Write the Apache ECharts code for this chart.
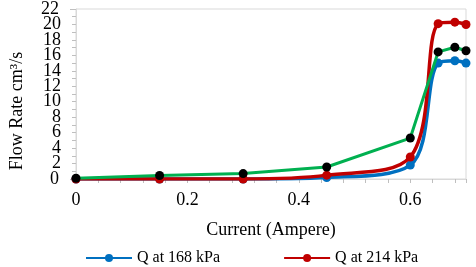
<!DOCTYPE html>
<html><head><meta charset="utf-8">
<script src="https://cdn.jsdelivr.net/npm/echarts@6/dist/echarts.min.js"></script>
<style>html,body{margin:0;padding:0;background:#fff}#c{width:476px;height:267px}</style>
</head><body><div id="c"></div>
<script>
var current = [0, 0.15, 0.3, 0.45, 0.6, 0.65, 0.68, 0.7];
var q168 = [0, 0, 0, 0.2, 1.8, 15.0, 15.3, 15.0];
var q214 = [0, 0, 0, 0.5, 2.85, 20.1, 20.3, 20.0];
var q3 = [0.1, 0.45, 0.7, 1.55, 5.3, 16.45, 17.05, 16.6];
var seriesNames = ['Q at 168 kPa', 'Q at 214 kPa', 'Q'];
var xTitle = 'Current (Ampere)';
var yTitle = 'Flow Rate cm\u00B3/s';
var yMin = 0, yMax = 22, yStep = 2;

function pairs(ys){ return current.map(function(x,i){ return [x, ys[i]]; }); }
var font = 'Liberation Serif';
var gridBox = {left: 74, right: 10, top: 9, bottom: 88};
var labelStyle = {fontFamily: font, fontSize: 18, color: '#000', margin: 15, hideOverlap: false};
var chart = echarts.init(document.getElementById('c'));
chart.setOption({
  animation: false,
  textStyle: {fontFamily: font},
  grid: [
    Object.assign({show: true, borderColor: '#d9d9d9', borderWidth: 1}, gridBox),
    Object.assign({show: false}, gridBox)
  ],
  legend: {
    data: [seriesNames[0], seriesNames[1]],
    left: 80, top: 245, itemWidth: 46, itemHeight: 10, itemGap: 63,
    textStyle: {fontFamily: font, fontSize: 16, color: '#000'}
  },
  xAxis: [{
    gridIndex: 0, type: 'value', min: 0, max: 0.7, interval: 0.2,
    name: xTitle, nameLocation: 'middle', nameGap: 42,
    nameTextStyle: {fontFamily: font, fontSize: 18, color: '#000'},
    axisLine: {show: true, lineStyle: {color: '#d9d9d9'}},
    axisTick: {show: true, length: 4, lineStyle: {color: '#bfbfbf'}},
    minorTick: {show: true, splitNumber: 5, length: 4, lineStyle: {color: '#bfbfbf'}},
    splitLine: {show: false},
    axisLabel: {fontFamily: font, fontSize: 18, color: '#000', margin: 12, hideOverlap: false,
      formatter: function(v){ return v > 0.65 ? '' : String(Math.round(v*10)/10); }}
  }, {
    gridIndex: 1, type: 'value', min: 0, max: 0.7, show: false
  }],
  yAxis: [{
    gridIndex: 0, type: 'value', min: yMin, max: yMax, interval: yStep,
    name: yTitle, nameLocation: 'middle', nameGap: 50,
    nameTextStyle: {fontFamily: font, fontSize: 18, color: '#000', padding: [0, 34, 0, 0]},
    axisLine: {show: true, lineStyle: {color: '#d9d9d9'}},
    axisTick: {show: true, length: 4, lineStyle: {color: '#bfbfbf'}},
    minorTick: {show: true, splitNumber: 2, length: 4, lineStyle: {color: '#bfbfbf'}},
    splitLine: {show: false},
    axisLabel: Object.assign({showMinLabel: false, showMaxLabel: false}, labelStyle)
  }, {
    gridIndex: 1, type: 'value', min: yMin, max: yMax, interval: yMax - yMin, position: 'left',
    axisLine: {show: false},
    axisTick: {show: true, length: 4, lineStyle: {color: '#bfbfbf'}},
    splitLine: {show: false},
    axisLabel: Object.assign({showMinLabel: true, showMaxLabel: true}, labelStyle)
  }],
  series: [
    {name: seriesNames[0], type: 'line', data: pairs(q168), smooth: 0.35,
     symbol: 'circle', symbolSize: 9, lineStyle: {width: 3.5, color: '#0070C0'},
     itemStyle: {color: '#0070C0'}, z: 2},
    {name: seriesNames[1], type: 'line', data: pairs(q214), smooth: 0.35,
     symbol: 'circle', symbolSize: 9, lineStyle: {width: 3.5, color: '#C00000'},
     itemStyle: {color: '#C00000'}, z: 3},
    {name: seriesNames[2], type: 'line', data: pairs(q3), smooth: false,
     symbol: 'circle', symbolSize: 9, lineStyle: {width: 3, color: '#00B050'},
     itemStyle: {color: '#000000'}, z: 4}
  ]
});
</script></body></html>
